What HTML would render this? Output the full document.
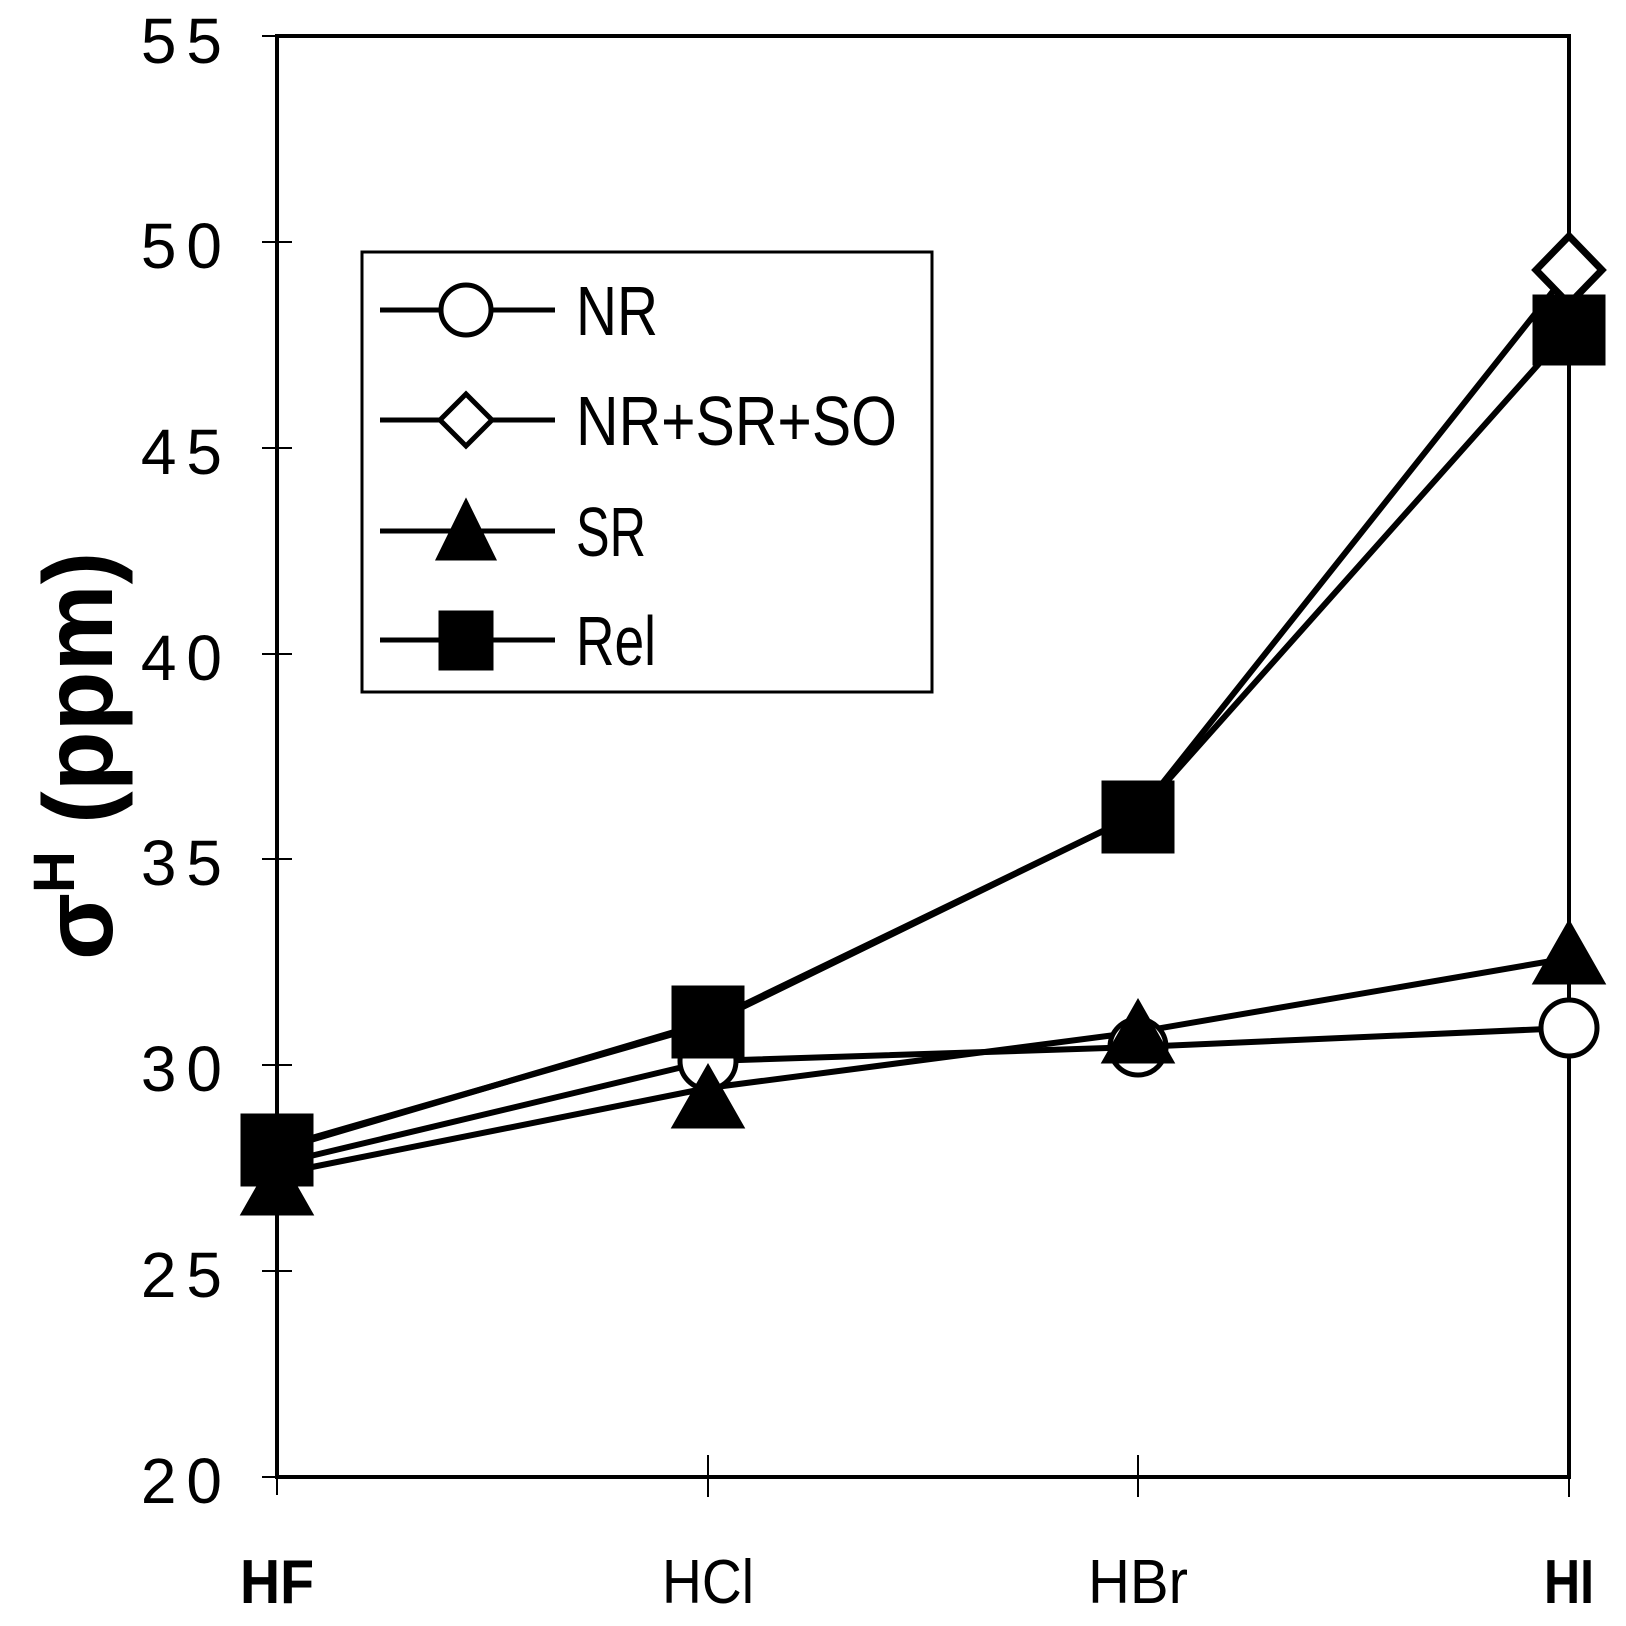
<!DOCTYPE html>
<html><head><style>
html,body{margin:0;padding:0;background:#fff;}
svg{display:block;}
text{font-family:"Liberation Sans",sans-serif;fill:#000;}
</style></head><body>
<svg width="1626" height="1626" viewBox="0 0 1626 1626" xmlns="http://www.w3.org/2000/svg">
<rect x="277" y="36" width="1292" height="1441" fill="none" stroke="#000" stroke-width="4"/>
<g stroke="#000" stroke-width="2">
<line x1="262" y1="36" x2="292" y2="36"/>
<line x1="262" y1="242" x2="292" y2="242"/>
<line x1="262" y1="448" x2="292" y2="448"/>
<line x1="262" y1="654" x2="292" y2="654"/>
<line x1="262" y1="859" x2="292" y2="859"/>
<line x1="262" y1="1065" x2="292" y2="1065"/>
<line x1="262" y1="1271" x2="292" y2="1271"/>
<line x1="262" y1="1477" x2="292" y2="1477"/>
<line x1="277" y1="1477" x2="277" y2="1495"/>
<line x1="708" y1="1455" x2="708" y2="1497"/>
<line x1="1138" y1="1455" x2="1138" y2="1497"/>
<line x1="1569" y1="1460" x2="1569" y2="1497"/>
</g>
<g font-size="64" text-anchor="end" letter-spacing="10">
<text x="232" y="63">55</text>
<text x="232" y="268">50</text>
<text x="232" y="474">45</text>
<text x="232" y="680">40</text>
<text x="232" y="885">35</text>
<text x="232" y="1091">30</text>
<text x="232" y="1297">25</text>
<text x="232" y="1503">20</text>
</g>
<g font-size="62" text-anchor="middle">
<text x="277" y="1603" font-weight="bold" textLength="74" lengthAdjust="spacingAndGlyphs">HF</text>
<text x="708" y="1603" textLength="92" lengthAdjust="spacingAndGlyphs">HCl</text>
<text x="1138" y="1603" textLength="100" lengthAdjust="spacingAndGlyphs">HBr</text>
<text x="1569" y="1603" font-weight="bold" textLength="50" lengthAdjust="spacingAndGlyphs">HI</text>
</g>
<g transform="translate(112,960) rotate(-90)">
<text x="0" y="0" font-size="98" font-weight="bold">σ<tspan font-size="58" dy="-38">H</tspan><tspan dy="38"> (ppm)</tspan></text>
</g>
<g fill="none" stroke="#000" stroke-width="6" stroke-linejoin="round">
<polyline points="277,1164 708,1061 1138,1047 1569,1028"/>
<polyline points="277,1148 708,1024 1138,814 1569,271"/>
<polyline points="277,1174 708,1088 1138,1032 1569,958"/>
<polyline points="277,1150 708,1022 1138,814 1569,330"/>
</g>
<g stroke="#000" stroke-width="5">
<circle cx="277" cy="1164" r="28" fill="#fff"/>
<circle cx="708" cy="1061" r="28" fill="#fff"/>
<circle cx="1138" cy="1047" r="28" fill="#fff"/>
<circle cx="1569" cy="1028" r="28" fill="#fff"/>
<polygon points="1569,236 1602,270 1569,304 1536,270" fill="#fff" stroke-width="7"/>
<polygon points="277,1155 310,1213 244,1213" fill="#000"/>
<polygon points="708,1068 741,1126 675,1126" fill="#000"/>
<polygon points="1138,1003 1171,1061 1105,1061" fill="#000"/>
<polygon points="1569,924 1602,982 1536,982" fill="#000"/>
<rect x="243" y="1116" width="68" height="68" fill="#000"/>
<rect x="674" y="988" width="68" height="68" fill="#000"/>
<rect x="1104" y="783" width="68" height="68" fill="#000"/>
<rect x="1535" y="297" width="68" height="66" fill="#000"/>
</g>
<rect x="362" y="252" width="570" height="440" fill="#fff" stroke="#000" stroke-width="3"/>
<g stroke="#000" stroke-width="5">
<line x1="380" y1="310" x2="555" y2="310"/>
<line x1="380" y1="420" x2="555" y2="420"/>
<line x1="380" y1="531" x2="555" y2="531"/>
<line x1="380" y1="640" x2="555" y2="640"/>
<circle cx="466" cy="310" r="25" fill="#fff"/>
<polygon points="466,394 492,420 466,446 440,420" fill="#fff"/>
<polygon points="466,503 493,558 439,558" fill="#000"/>
<rect x="441" y="613" width="50" height="55" fill="#000"/>
</g>
<g font-size="70">
<text x="576" y="335" textLength="82" lengthAdjust="spacingAndGlyphs">NR</text>
<text x="576" y="445" textLength="321" lengthAdjust="spacingAndGlyphs">NR+SR+SO</text>
<text x="576" y="556" textLength="70" lengthAdjust="spacingAndGlyphs">SR</text>
<text x="576" y="665" textLength="80" lengthAdjust="spacingAndGlyphs">Rel</text>
</g>
</svg>
</body></html>
